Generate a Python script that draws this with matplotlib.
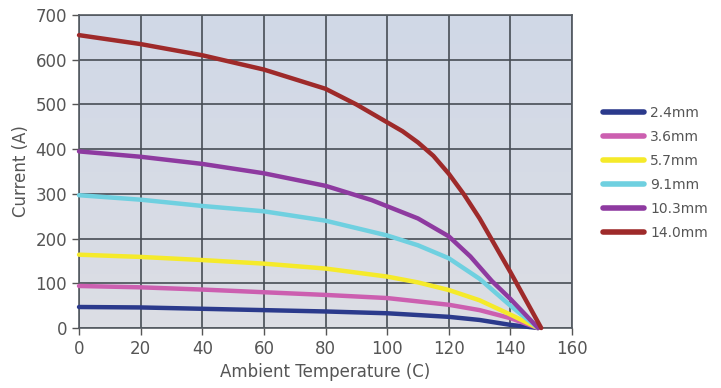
import matplotlib
matplotlib.use('Agg')
import matplotlib.pyplot as plt
import numpy as np

# (temperature in C, current in A)
labels = ['2.4mm', '3.6mm', '5.7mm', '9.1mm', '10.3mm', '14.0mm']
colors = ['#2b3a8c', '#cc5fb0', '#f5ea2a', '#6fd0e0', '#8e3aa0', '#9e2a2a']

t_24 = [0, 20, 40, 60, 80, 100, 120, 130, 140, 149]
i_24 = [47, 46, 43, 40, 37, 33, 25, 18, 7, 0]

t_36 = [0, 20, 40, 60, 80, 100, 120, 130, 140, 149]
i_36 = [94, 91, 86, 80, 74, 67, 52, 40, 22, 0]

t_57 = [0, 20, 40, 60, 80, 100, 110, 120, 130, 140, 149]
i_57 = [164, 159, 152, 144, 133, 115, 102, 85, 62, 30, 0]

t_91 = [0, 20, 40, 60, 80, 100, 110, 120, 130, 140, 149]
i_91 = [297, 287, 273, 261, 240, 207, 185, 156, 110, 50, 0]

t_103 = [0, 20, 40, 60, 80, 95, 110, 120, 127, 134, 140, 149]
i_103 = [395, 383, 367, 346, 318, 286, 245, 205, 160, 105, 65, 0]

t_140 = [0, 20, 40, 60, 80, 90, 100, 105, 110, 115, 120, 125, 130, 140, 150]
i_140 = [655, 635, 610, 578, 535, 500, 460, 440, 415, 385, 345, 298, 245, 125, 0]

temps = [t_24, t_36, t_57, t_91, t_103, t_140]
currents = [i_24, i_36, i_57, i_91, i_103, i_140]

fig = plt.figure(figsize=(7.21, 3.88), dpi=100)
ax = fig.add_axes([0.1096, 0.1546, 0.6838, 0.8067])

# soft blue-gray background, a bit bluer at the top
grad = np.linspace(0, 1, 64).reshape(-1, 1)
ax.imshow(grad, extent=[0, 160, 0, 700], aspect='auto', origin='lower', zorder=0,
          cmap=matplotlib.colors.LinearSegmentedColormap.from_list('bg', ['#dcdee4', '#d0d8e7']))

for t, c, col, lab in zip(temps, currents, colors, labels):
    ax.plot(t, c, color=col, linewidth=3.2, label=lab, solid_capstyle='round',
            solid_joinstyle='round', zorder=3, clip_on=False)

ax.set_xlim(0, 160)
ax.set_ylim(0, 700)
ax.set_xticks(range(0, 161, 20))
ax.set_yticks(range(0, 701, 100))
ax.grid(True, color='#474d55', linewidth=1.2, zorder=1)
for s in ax.spines.values():
    s.set_color('#555b62')
    s.set_linewidth(1.2)
ax.tick_params(colors='#555555', labelsize=12, length=5, width=1, labelcolor='#555555')
ax.set_xlabel('Ambient Temperature (C)', fontsize=12, color='#555555')
ax.set_ylabel('Current (A)', fontsize=12, color='#555555')

leg = fig.legend(loc='center left', bbox_to_anchor=(0.836, 0.554), frameon=False,
                 fontsize=10, handlelength=3.0, handletextpad=0.4, labelspacing=0.72,
                 borderpad=0, borderaxespad=0, labelcolor='#555555')
for h in leg.get_lines():
    h.set_linewidth(4)

fig.savefig('out.png', dpi=100)
